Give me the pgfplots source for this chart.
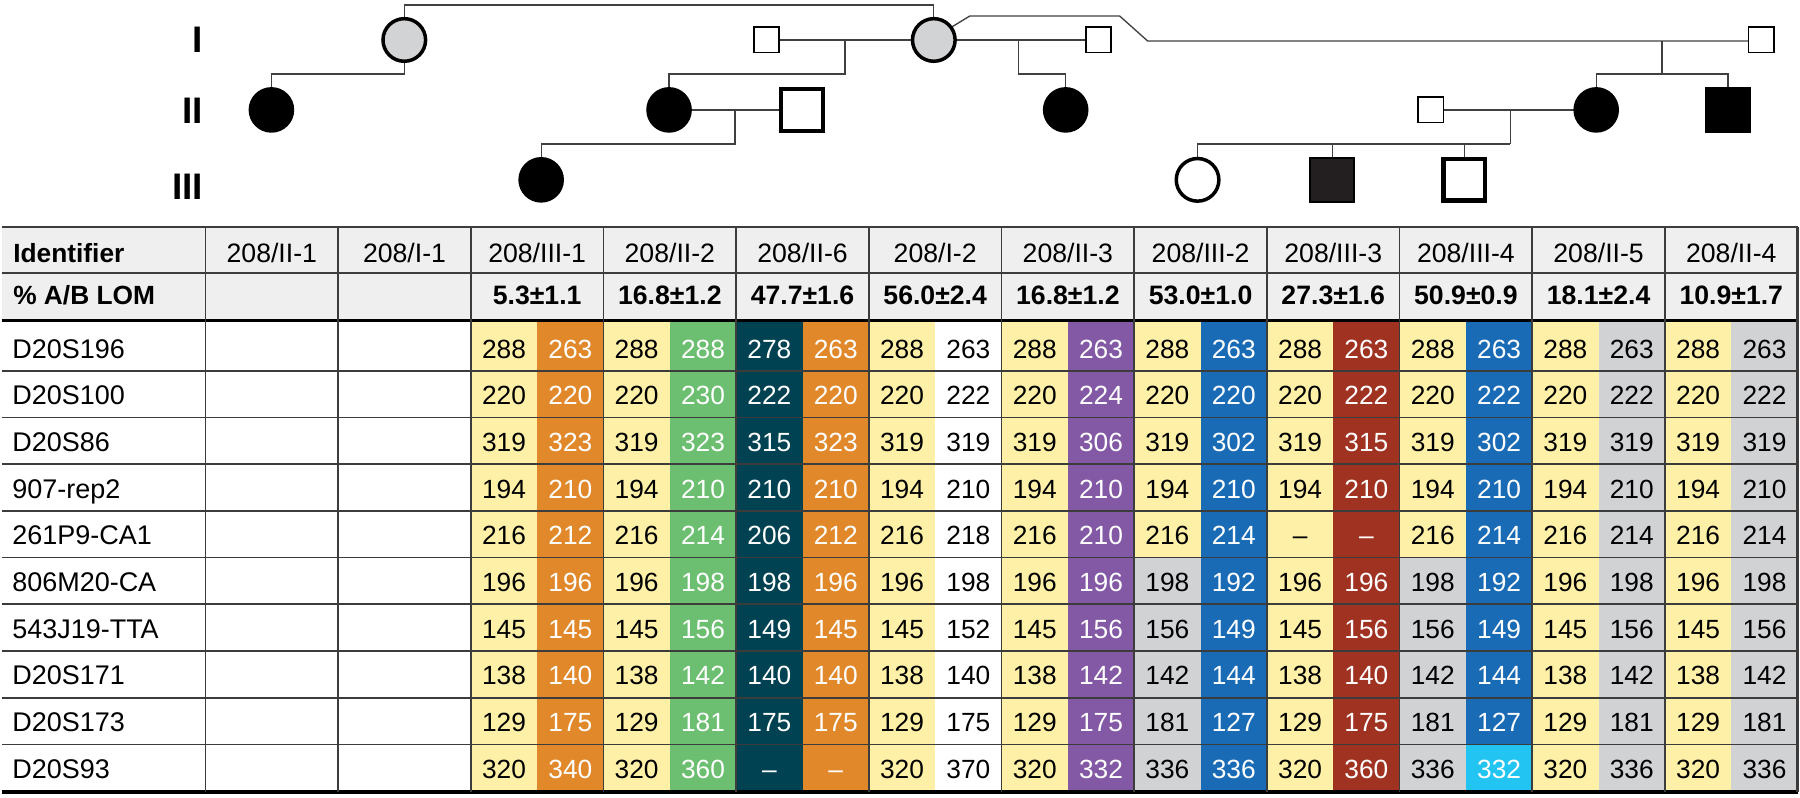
\documentclass[border=0pt]{standalone}
\usepackage{fontspec}
\setmainfont{Liberation Sans}
\usepackage{pgfplots}
\usepackage{pgfplotstable}
\pgfplotsset{compat=1.18}
\definecolor{yel}{HTML}{FEF0A6}
\definecolor{ora}{HTML}{E0882A}
\definecolor{gre}{HTML}{6CBF70}
\definecolor{tea}{HTML}{004152}
\definecolor{pur}{HTML}{8359A5}
\definecolor{blu}{HTML}{1A6BB5}
\definecolor{red}{HTML}{A03222}
\definecolor{gry}{HTML}{D1D2D4}
\definecolor{cya}{HTML}{22C4F2}
\definecolor{hdr}{HTML}{EFEFEF}
\definecolor{lin}{HTML}{3C3C3C}
\definecolor{ped}{HTML}{404040}
\definecolor{pgrey}{HTML}{D1D3D4}
\definecolor{dsq}{HTML}{231F20}

\pgfplotstableread{
a3 b3 a4 b4 a5 b5 a6 b6 a7 b7 a8 b8 a9 b9 a10 b10 a11 b11 a12 b12
288 263 288 288 278 263 288 263 288 263 288 263 288 263 288 263 288 263 288 263
220 220 220 230 222 220 220 222 220 224 220 220 220 222 220 222 220 222 220 222
319 323 319 323 315 323 319 319 319 306 319 302 319 315 319 302 319 319 319 319
194 210 194 210 210 210 194 210 194 210 194 210 194 210 194 210 194 210 194 210
216 212 216 214 206 212 216 218 216 210 216 214 – – 216 214 216 214 216 214
196 196 196 198 198 196 196 198 196 196 198 192 196 196 198 192 196 198 196 198
145 145 145 156 149 145 145 152 145 156 156 149 145 156 156 149 145 156 145 156
138 140 138 142 140 140 138 140 138 142 142 144 138 140 142 144 138 142 138 142
129 175 129 181 175 175 129 175 129 175 181 127 129 175 181 127 129 181 129 181
320 340 320 360 – – 320 370 320 332 336 336 320 360 336 332 320 336 320 336
}\cells

\pgfplotstableread{
i name
1 D20S196
2 D20S100
3 D20S86
4 907-rep2
5 261P9-CA1
6 806M20-CA
7 543J19-TTA
8 D20S171
9 D20S173
10 D20S93
}\rowlabels

\pgfplotstableread{
x id
270.4 208/II-1
403.2 208/I-1
536.0 208/III-1
668.8 208/II-2
801.6 208/II-6
934.4 208/I-2
1067.2 208/II-3
1200.0 208/III-2
1332.8 208/III-3
1465.6 208/III-4
1598.4 208/II-5
1731.2 208/II-4
}\ids

\pgfplotstableread{
x lom
536.0 5.3±1.1
668.8 16.8±1.2
801.6 47.7±1.6
934.4 56.0±2.4
1067.2 16.8±1.2
1200.0 53.0±1.0
1332.8 27.3±1.6
1465.6 50.9±0.9
1598.4 18.1±2.4
1731.2 10.9±1.7
}\loms

\pgfplotstableread{
x y lab
202 39.3 I
202 110.0 II
202 186.7 III
}\gens

\newcommand{\cellfill}[5]{\addplot[fill=#1,draw=none] coordinates {(#2,#3)(#4,#3)(#4,#5)(#2,#5)} -- cycle;}
\newcommand{\cellcol}[3]{\addplot[draw=none, nodes near coords={\pgfplotspointmeta}, point meta=explicit symbolic, every node near coord/.append style={text=#3}] table[x expr=#2, y expr={325.5+46.72*(\coordindex+0.5)}, meta=#1] {\cells};}

\begin{document}
\begin{tikzpicture}
\begin{axis}[
  scale only axis, width=540pt, height=239.4pt,
  xmin=0, xmax=1800, ymin=0, ymax=798, y dir=reverse,
  hide axis, clip=false,
  every node near coord/.append style={anchor=center, inner sep=0pt, text height=5.7pt, text depth=0pt, font=\fontsize{7.9}{9}\selectfont},
]
\path (axis cs:0,0) rectangle (axis cs:1800,798);
% header background
\cellfill{hdr}{0}{227.3}{1797.6}{321}
% colour bands
\cellfill{yel}{469.6}{321}{536.0}{793}
\cellfill{ora}{536.0}{321}{602.4}{793}
\cellfill{yel}{602.4}{321}{668.8}{793}
\cellfill{gre}{668.8}{321}{735.2}{793}
\cellfill{tea}{735.2}{321}{801.6}{793}
\cellfill{ora}{801.6}{321}{868.0}{793}
\cellfill{yel}{868.0}{321}{934.4}{793}
\cellfill{yel}{1000.8}{321}{1067.2}{793}
\cellfill{pur}{1067.2}{321}{1133.6}{793}
\cellfill{yel}{1133.6}{321}{1200.0}{558.1}
\cellfill{gry}{1133.6}{558.1}{1200.0}{793}
\cellfill{blu}{1200.0}{321}{1266.4}{793}
\cellfill{yel}{1266.4}{321}{1332.8}{793}
\cellfill{red}{1332.8}{321}{1399.2}{793}
\cellfill{yel}{1399.2}{321}{1465.6}{558.1}
\cellfill{gry}{1399.2}{558.1}{1465.6}{793}
\cellfill{blu}{1465.6}{321}{1532.0}{745.0}
\cellfill{cya}{1465.6}{745.0}{1532.0}{793}
\cellfill{yel}{1532.0}{321}{1598.4}{793}
\cellfill{gry}{1598.4}{321}{1664.8}{793}
\cellfill{yel}{1664.8}{321}{1731.2}{793}
\cellfill{gry}{1731.2}{321}{1797.6}{793}
% horizontal rules
\pgfplotsinvokeforeach{227.3,273.3,371.2,417.9,464.7,511.4,558.1,604.8,651.5,698.3,745.0}{
  \addplot[lin, line width=0.5pt] coordinates {(0,#1)(1797.6,#1)};
}
\addplot[black, line width=1.0pt] coordinates {(0,321)(1797.6,321)};
\addplot[black, line width=1.0pt] coordinates {(0,792.8)(1797.6,792.8)};
% vertical rules
\pgfplotsinvokeforeach{204,336.8,469.6,602.4,735.2,868.0,1000.8,1133.6,1266.4,1399.2,1532.0,1664.8}{
  \addplot[lin, line width=0.5pt] coordinates {(#1,227.3)(#1,793)};
}
\addplot[lin, line width=0.8pt] coordinates {(1797.6,227.3)(1797.6,793)};
% cell texts
\cellcol{a3}{502.8}{black}
\cellcol{b3}{569.2}{white}
\cellcol{a4}{635.6}{black}
\cellcol{b4}{702.0}{white}
\cellcol{a5}{768.4}{white}
\cellcol{b5}{834.8}{white}
\cellcol{a6}{901.2}{black}
\cellcol{b6}{967.6}{black}
\cellcol{a7}{1034.0}{black}
\cellcol{b7}{1100.4}{white}
\cellcol{a8}{1166.8}{black}
\cellcol{b8}{1233.2}{white}
\cellcol{a9}{1299.6}{black}
\cellcol{b9}{1366.0}{white}
\cellcol{a10}{1432.4}{black}
\cellcol{b10}{1498.8}{white}
\cellcol{a11}{1565.2}{black}
\cellcol{b11}{1631.6}{black}
\cellcol{a12}{1698.0}{black}
\cellcol{b12}{1764.4}{black}
% row labels
\addplot[draw=none, nodes near coords={\pgfplotspointmeta}, point meta=explicit symbolic,
  every node near coord/.append style={anchor=west, font=\fontsize{8.1}{9}\selectfont, text height=5.8pt}]
  table[x expr=10, y expr={325.5+46.72*(\thisrow{i}-0.5)}, meta=name] {\rowlabels};
% header texts
\addplot[draw=none, nodes near coords={\pgfplotspointmeta}, point meta=explicit symbolic,
  every node near coord/.append style={font=\fontsize{8}{9}\selectfont, text height=5.8pt}]
  table[x=x, y expr=253.3, meta=id] {\ids};
\addplot[draw=none, nodes near coords={\pgfplotspointmeta}, point meta=explicit symbolic,
  every node near coord/.append style={font=\bfseries\fontsize{8}{9}\selectfont, text height=5.8pt}]
  table[x=x, y expr=295, meta=lom] {\loms};
\node[anchor=west, inner sep=0pt, text height=5.8pt, font=\bfseries\fontsize{7.9}{9}\selectfont] at (axis cs:11,253.3) {Identifier};
\node[anchor=west, inner sep=0pt, text height=5.8pt, font=\bfseries\fontsize{7.9}{9}\selectfont] at (axis cs:11,295) {\% A/B LOM};
% generation labels
\addplot[draw=none, nodes near coords={\pgfplotspointmeta}, point meta=explicit symbolic,
  every node near coord/.append style={anchor=east, font=\bfseries\fontsize{11.1}{12}\selectfont, text height=7.95pt}]
  table[x=x, y=y, meta=lab] {\gens};
% pedigree lines
\addplot[ped, line width=0.4pt] coordinates {(403,17)(403,5)(933,5)(933,17)};
\addplot[ped, line width=0.4pt] coordinates {(403,63)(403,74)(270,74)(270,87)};
\addplot[ped, line width=0.4pt] coordinates {(765.5,40)(933,40)};
\addplot[ped, line width=0.4pt] coordinates {(844,40)(844,74)(668,74)(668,87)};
\addplot[ped, line width=0.4pt] coordinates {(933,40)(1098,40)};
\addplot[ped, line width=0.4pt] coordinates {(1018,40)(1018,74)(1065,74)(1065,87)};
\addplot[ped, line width=0.4pt] coordinates {(951,27)(969,16)(1119,16)(1147,41)(1761,41)};
\addplot[ped, line width=0.4pt] coordinates {(1662,41)(1662,74)};
\addplot[ped, line width=0.4pt] coordinates {(1596,87)(1596,74)(1728,74)(1728,87)};
\addplot[ped, line width=0.4pt] coordinates {(668,110)(801,110)};
\addplot[ped, line width=0.4pt] coordinates {(734,110)(734,144)(540,144)(540,157)};
\addplot[ped, line width=0.4pt] coordinates {(1430.5,110)(1596,110)};
\addplot[ped, line width=0.4pt] coordinates {(1510,110)(1510,144)};
\addplot[ped, line width=0.4pt] coordinates {(1197,157)(1197,144)(1510,144)};
\addplot[ped, line width=0.4pt] coordinates {(1332,144)(1332,157)};
\addplot[ped, line width=0.4pt] coordinates {(1464,144)(1464,157)};
% pedigree symbols
\addplot[only marks, mark=*, mark size=6.4pt, mark options={fill=pgrey, draw=black, line width=1.05pt}] coordinates {(403,40)(933,40)};
\addplot[only marks, mark=square*, mark size=3.8pt, mark options={fill=white, draw=black, line width=0.5pt}] coordinates {(765.5,40)(1098,40)(1761,40)(1430.5,110)};
\addplot[only marks, mark=*, mark size=6.6pt, mark options={fill=black, draw=black, line width=0.5pt}] coordinates {(270,110)(668,110)(1065,110)(1596,110)(540,180)};
\addplot[only marks, mark=square*, mark size=6.25pt, mark options={fill=white, draw=black, line width=1.3pt}] coordinates {(801,110)(1464,180)};
\addplot[only marks, mark=square*, mark size=6.6pt, mark options={fill=black, draw=black, line width=0.5pt}] coordinates {(1728,110)};
\addplot[only marks, mark=square*, mark size=6.6pt, mark options={fill=dsq, draw=black, line width=0.6pt}] coordinates {(1332,180)};
\addplot[only marks, mark=*, mark size=6.4pt, mark options={fill=white, draw=black, line width=1.05pt}] coordinates {(1197,180)};
\end{axis}
\end{tikzpicture}
\end{document}
